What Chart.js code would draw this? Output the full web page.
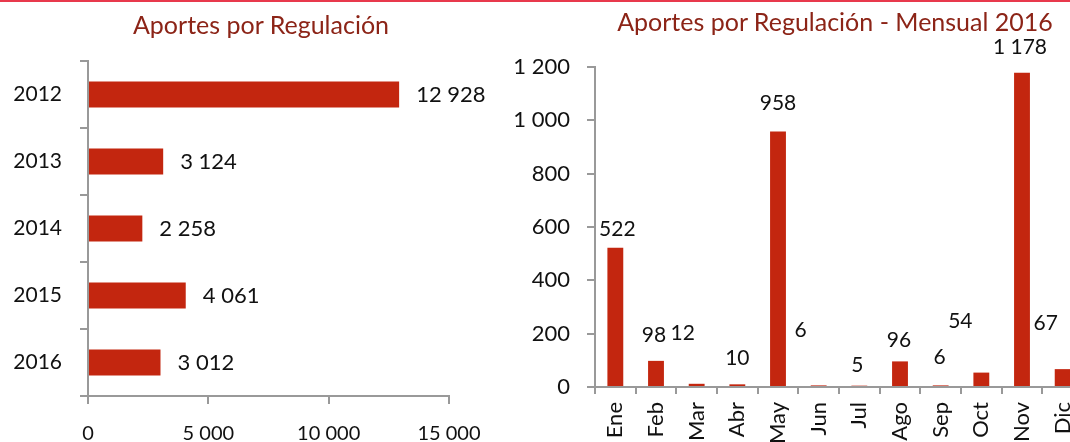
<!DOCTYPE html>
<html>
<head>
<meta charset="utf-8">
<script src="https://cdn.jsdelivr.net/npm/chart.js@4/dist/chart.umd.min.js"></script>
<style>
  html, body { margin:0; padding:0; background:#fff; width:1070px; height:442px; overflow:hidden; }
  #topline { position:absolute; left:0; top:0; width:1070px; height:2px; background:#e8394c; }
  #left { position:absolute; left:0; top:0; }
  #right { position:absolute; left:500px; top:0; }
  .title { position:absolute; font-family:Lato, sans-serif; font-size:25px; color:#8c2417; white-space:nowrap; transform:translateX(-50%); line-height:30px; }
</style>
</head>
<body>
<div id="topline"></div>
<canvas id="left" width="520" height="442"></canvas>
<canvas id="right" width="600" height="442"></canvas>
<div class="title" style="left:261px; top:9px;">Aportes por Regulación</div>
<div class="title" style="left:835px; top:6px;">Aportes por Regulación - Mensual 2016</div>
<script>
// data
const years = ['2012', '2013', '2014', '2015', '2016'];
const yearValues = [12928, 3124, 2258, 4061, 3012];
const months = ['Ene', 'Feb', 'Mar', 'Abr', 'May', 'Jun', 'Jul', 'Ago', 'Sep', 'Oct', 'Nov', 'Dic'];
const monthValues = [522, 98, 12, 10, 958, 6, 5, 96, 6, 54, 1178, 67];
const yearTicks = [0, 5000, 10000, 15000];
const monthTicks = [0, 200, 400, 600, 800, 1000, 1200];

// label nudges (px) for the monthly chart, as placed in the original
const monthLabelShift = [[2,-19],[-2,-26],[-14,-51],[0,-26],[0,-28],[-18,-55],[-2,-20],[-1,-21],[-1,-28],[-21,-51],[-2,-26],[-17,-46]];

const RED = '#c3260f';
const AXIS = '#999999';
const FONT = 'Lato';

const fmt = n => String(n).replace(/\B(?=(\d{3})+(?!\d))/g, ' ');

const valueLabels = {
  id: 'valueLabels',
  afterDatasetsDraw(chart, args, opts) {
    const ctx = chart.ctx;
    const data = chart.data.datasets[0].data;
    ctx.save();
    ctx.font = opts.size + 'px ' + FONT;
    ctx.fillStyle = '#111';
    ctx.textBaseline = 'middle';
    chart.getDatasetMeta(0).data.forEach((bar, i) => {
      const txt = fmt(data[i]);
      if (opts.horizontal) {
        ctx.textAlign = 'left';
        ctx.fillText(txt, bar.x + opts.gap, bar.y);
      } else {
        const s = opts.shift[i];
        ctx.textAlign = 'center';
        ctx.fillText(txt, bar.x + s[0], bar.y + s[1]);
      }
    });
    ctx.restore();
  }
};

const axisLook = {
  border: { display: true, color: AXIS, width: 2 },
  grid: { display: true, drawOnChartArea: false, drawTicks: true, tickLength: 8, color: AXIS, lineWidth: 2 }
};

// 1. Yearly horizontal bars
new Chart(document.getElementById('left'), {
  type: 'bar',
  data: {
    labels: years,
    datasets: [{ data: yearValues, backgroundColor: RED, barPercentage: 0.39, categoryPercentage: 1 }]
  },
  options: {
    indexAxis: 'y', responsive: false, animation: false,
    layout: { padding: { left: 0, right: 71, top: 61, bottom: 0 } },
    scales: {
      x: {
        ...axisLook, min: 0, max: 15000,
        afterBuildTicks: s => { s.ticks = yearTicks.map(v => ({ value: v })); },
        afterFit: s => { s.height = 46; },
        ticks: { color: '#111', font: { family: FONT, size: 20 }, padding: 18, maxRotation: 0, callback: v => fmt(v) }
      },
      y: {
        ...axisLook,
        afterFit: s => { s.width = 88; },
        ticks: { color: '#111', font: { family: FONT, size: 21 }, padding: 18 }
      }
    },
    plugins: {
      legend: { display: false },
      tooltip: { enabled: false },
      valueLabels: { horizontal: true, gap: 17, size: 22 }
    }
  },
  plugins: [valueLabels]
});

// 2. Monthly 2016 column chart
new Chart(document.getElementById('right'), {
  type: 'bar',
  data: {
    labels: months,
    datasets: [{ data: monthValues, backgroundColor: RED, barPercentage: 0.39, categoryPercentage: 1 }]
  },
  options: {
    responsive: false, animation: false,
    layout: { padding: { left: 0, right: 17, top: 67, bottom: 0 } },
    scales: {
      x: {
        ...axisLook,
        grid: { ...axisLook.grid, tickLength: 7 },
        afterFit: s => { s.height = 55; },
        ticks: { color: '#111', font: { family: FONT, size: 22 }, padding: 8, minRotation: 90, maxRotation: 90, autoSkip: false }
      },
      y: {
        ...axisLook, min: 0, max: 1200,
        afterBuildTicks: s => { s.ticks = monthTicks.map(v => ({ value: v })); },
        afterFit: s => { s.width = 95; },
        ticks: { color: '#111', font: { family: FONT, size: 22 }, padding: 17, callback: v => fmt(v) }
      }
    },
    plugins: {
      legend: { display: false },
      tooltip: { enabled: false },
      valueLabels: { horizontal: false, shift: monthLabelShift, size: 21 }
    }
  },
  plugins: [valueLabels]
});
</script>
</body>
</html>
